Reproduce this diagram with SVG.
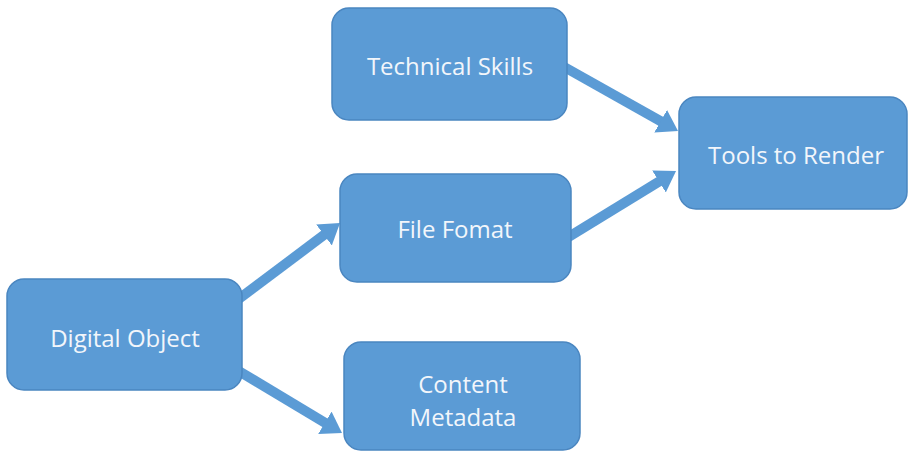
<svg xmlns="http://www.w3.org/2000/svg" width="908" height="453" viewBox="0 0 908 453">
<style>
.box{fill:#5b9bd5;stroke:#4a86c0;stroke-width:1.5}
.lbl{font-family:"Open Sans","Liberation Sans",sans-serif;font-size:24px;fill:#f2f6fb;text-anchor:middle}
.conn{stroke:#5b9bd5;stroke-width:10;fill:none}
</style>
<defs>
<marker id="ah" markerUnits="userSpaceOnUse" markerWidth="22" markerHeight="28" refX="4" refY="13" orient="auto">
<path d="M0,0 L20,13 L0,26 Z" fill="#5b9bd5"/>
</marker>
</defs>
<rect width="908" height="453" fill="#ffffff"/>
<g id="connectors">
<line class="conn" x1="232" y1="304" x2="327.2" y2="232.6" marker-end="url(#ah)"/>
<line class="conn" x1="232" y1="367" x2="328.3" y2="424.8" marker-end="url(#ah)"/>
<line class="conn" x1="558" y1="63.5" x2="664.1" y2="123.2" marker-end="url(#ah)"/>
<line class="conn" x1="562" y1="241" x2="662.4" y2="179.4" marker-end="url(#ah)"/>
</g>
<g id="technical-skills">
<rect class="box" x="332" y="8" width="235" height="112" rx="17"/>
<text class="lbl" x="450" y="75">Technical Skills</text>
</g>
<g id="tools-to-render">
<rect class="box" x="679" y="97" width="228" height="112" rx="17"/>
<text class="lbl" x="796" y="164">Tools to Render</text>
</g>
<g id="file-format">
<rect class="box" x="340" y="174" width="231" height="108" rx="17"/>
<text class="lbl" x="455" y="238">File Fomat</text>
</g>
<g id="digital-object">
<rect class="box" x="7" y="279" width="235" height="111" rx="17"/>
<text class="lbl" x="125" y="347">Digital Object</text>
</g>
<g id="content-metadata">
<rect class="box" x="344" y="342" width="236" height="108" rx="17"/>
<text class="lbl" x="463" y="393">Content</text>
<text class="lbl" x="463" y="426">Metadata</text>
</g>
</svg>
